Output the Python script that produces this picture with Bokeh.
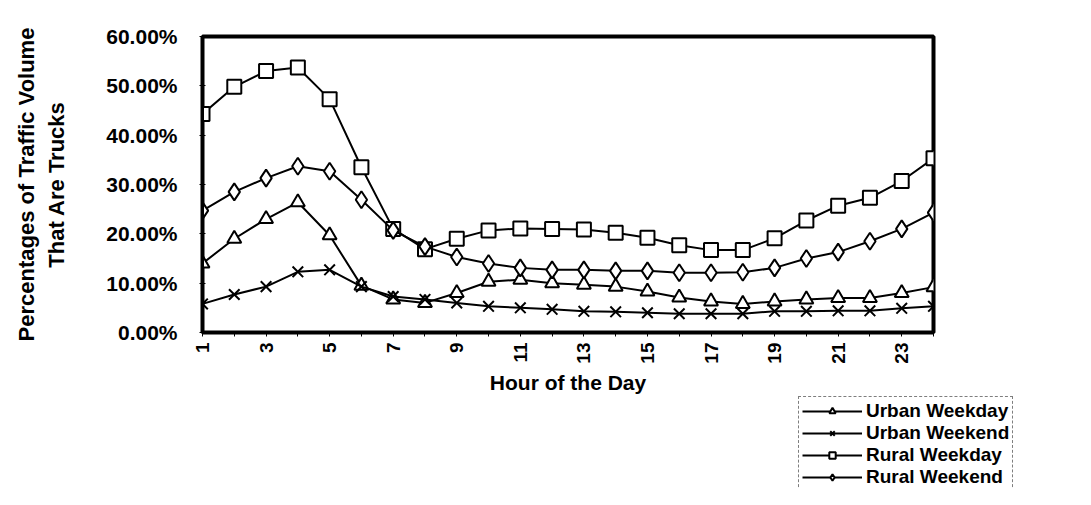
from bokeh.plotting import figure
from bokeh.layouts import column, row
from bokeh.models import (Range1d, FixedTicker, NumeralTickFormatter, Legend, LegendItem,
                          ColumnDataSource, Spacer)
from bokeh.embed import file_html
from bokeh.resources import INLINE

hours = list(range(1, 25))
hour_labels = {h: (str(h) if h % 2 == 1 else "") for h in hours}
y_ticks = [0.0, 0.1, 0.2, 0.3, 0.4, 0.5, 0.6]

urban_weekday = [0.140, 0.190, 0.230, 0.264, 0.197, 0.095, 0.067, 0.060, 0.080, 0.103, 0.107, 0.100,
                 0.097, 0.093, 0.083, 0.071, 0.063, 0.058, 0.063, 0.067, 0.070, 0.070, 0.080, 0.092]
urban_weekend = [0.058, 0.077, 0.093, 0.123, 0.127, 0.093, 0.073, 0.067, 0.060, 0.053, 0.050, 0.047,
                 0.043, 0.042, 0.040, 0.038, 0.038, 0.038, 0.043, 0.043, 0.044, 0.044, 0.049, 0.053]
rural_weekday = [0.443, 0.498, 0.530, 0.537, 0.473, 0.335, 0.210, 0.169, 0.190, 0.207, 0.211, 0.210,
                 0.209, 0.202, 0.192, 0.177, 0.167, 0.167, 0.191, 0.227, 0.257, 0.273, 0.307, 0.353]
rural_weekend = [0.247, 0.285, 0.313, 0.337, 0.327, 0.269, 0.207, 0.174, 0.153, 0.140, 0.131, 0.127,
                 0.127, 0.125, 0.125, 0.121, 0.121, 0.122, 0.131, 0.150, 0.163, 0.185, 0.210, 0.243]

series = [
    ("Urban Weekday", urban_weekday, "triangle", 14),
    ("Urban Weekend", urban_weekend, "x", 15),
    ("Rural Weekday", rural_weekday, "square", 14),
    ("Rural Weekend", rural_weekend, "diamond", 17),
]

FONT = "Liberation Sans"
W = 1075
H_MAIN = 396
H_LEG = 93
LEG_X = 798

p = figure(width=W, height=H_MAIN, output_backend="svg", toolbar_location=None,
           x_range=Range1d(1, 24), y_range=Range1d(0, 0.6),
           min_border_left=202, min_border_right=W - 933, min_border_top=36, min_border_bottom=H_MAIN - 335)
p.background_fill_color = "white"
p.border_fill_color = "white"
p.outline_line_color = "black"
p.outline_line_width = 4
p.xgrid.visible = False
p.ygrid.visible = False

# legend panel: a second figure whose view range lies outside the data, so only the legend shows
pl = figure(width=W - LEG_X, height=H_LEG, output_backend="svg", toolbar_location=None,
            x_range=Range1d(100, 200), y_range=Range1d(100, 200),
            min_border=0, x_axis_type=None, y_axis_type=None)
pl.outline_line_color = None
pl.xgrid.visible = False
pl.ygrid.visible = False
pl.background_fill_color = "white"
pl.border_fill_color = "white"

items = []
for name, vals, marker, size in series:
    src = ColumnDataSource(dict(x=hours, y=vals))
    p.line("x", "y", source=src, line_color="black", line_width=2)
    p.scatter("x", "y", source=src, marker=marker, size=size, line_color="black",
              line_width=2, fill_color="white")
    ln = pl.line("x", "y", source=src, line_color="black", line_width=2)
    sc = pl.scatter("x", "y", source=src, marker=marker, size=size - 4, line_color="black",
                    line_width=2, fill_color="white")
    items.append(LegendItem(label=name, renderers=[ln, sc]))

xa = p.xaxis[0]
xa.ticker = FixedTicker(ticks=hours)
xa.major_label_overrides = hour_labels
xa.major_label_orientation = 3.14159265 / 2
xa.major_label_text_font = FONT
xa.major_label_text_font_style = "bold"
xa.major_label_text_font_size = "19px"
xa.major_label_text_color = "black"
xa.axis_label = "Hour of the Day"
xa.axis_label_text_font = FONT
xa.axis_label_text_font_style = "bold"
xa.axis_label_text_font_size = "21px"
xa.axis_label_text_color = "black"
xa.axis_label_standoff = 4
xa.axis_line_width = 3
xa.major_tick_out = 4
xa.major_tick_in = 0
xa.minor_tick_line_color = None
xa.major_label_standoff = 6

ya = p.yaxis[0]
ya.ticker = FixedTicker(ticks=y_ticks)
ya.formatter = NumeralTickFormatter(format="0.00%")
ya.major_label_text_font = FONT
ya.major_label_text_font_style = "bold"
ya.major_label_text_font_size = "21px"
ya.major_label_text_color = "black"
ya.axis_label = "Percentages of Traffic Volume\nThat Are Trucks"
ya.axis_label_text_font = FONT
ya.axis_label_text_font_style = "bold"
ya.axis_label_text_font_size = "22px"
ya.axis_label_text_color = "black"
ya.axis_label_standoff = 34
ya.axis_line_width = 3
ya.major_tick_out = 3
ya.major_tick_in = 3
ya.minor_tick_line_color = None
ya.major_label_standoff = 22

legend = Legend(items=items, location="top_left")
legend.label_text_font = FONT
legend.label_text_font_style = "bold"
legend.label_text_font_size = "19px"
legend.label_text_color = "black"
legend.label_text_line_height = 0.7
legend.label_height = 16
legend.glyph_height = 16
legend.glyph_width = 60
legend.label_standoff = 4
legend.spacing = 0
legend.padding = 3
legend.margin = 0
legend.border_line_color = "black"
legend.border_line_width = 1
legend.border_line_dash = "dotted"
legend.background_fill_color = "white"
legend.background_fill_alpha = 1.0
pl.add_layout(legend)

layout = column(p, row(Spacer(width=LEG_X, height=H_LEG), pl, spacing=0), spacing=0)
open("out.html", "w").write(file_html(layout, INLINE))
